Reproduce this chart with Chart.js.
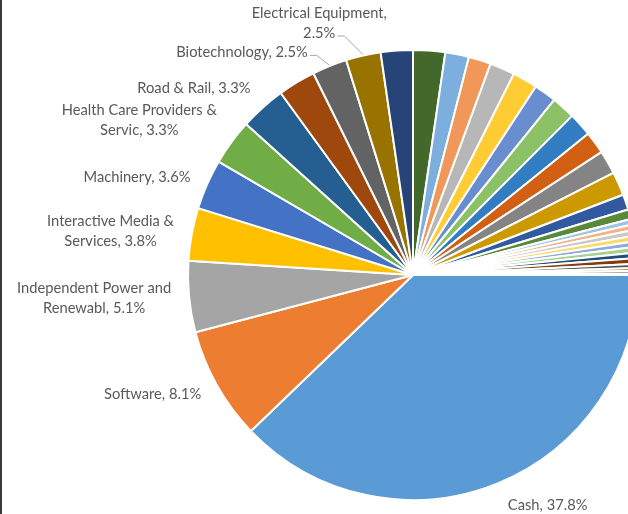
<!DOCTYPE html>
<html>
<head>
<meta charset="utf-8">
<title>Portfolio by industry</title>
<script src="https://cdn.jsdelivr.net/npm/chart.js@4/dist/chart.umd.min.js"></script>
<style>
    html, body { margin: 0; padding: 0; background: #fff; }
    #wrap { position: relative; width: 628px; height: 514px; overflow: hidden; }
    #chart { position: absolute; left: 0; top: 0; }
    #frame { position: absolute; left: 0; top: 0; width: 2px; height: 514px; background: #3a3a3a; }
</style>
</head>
<body>
<div id="wrap">
    <canvas id="chart" width="700" height="514"></canvas>
    <div id="frame"></div>
</div>
<script>
// Industries, in the order Excel draws them (clockwise from 3 o'clock)
const categories = [
    'Cash', 'Software', 'Independent Power and Renewabl', 'Interactive Media & Services',
    'Machinery', 'Health Care Providers & Servic', 'Road & Rail', 'Semiconductors & Semiconductor',
    'Biotechnology', 'Electrical Equipment', 'Banks', 'Capital Markets',
    'Chemicals', 'Insurance', 'Pharmaceuticals', 'IT Services',
    'Specialty Retail', 'Hotels Restaurants & Leisure', 'Aerospace & Defense', 'Media',
    'Building Products', 'Entertainment', 'Health Care Equipment & Supp', 'Oil Gas & Consumable Fuels',
    'Electric Utilities', 'Professional Services', 'Trading Companies & Distribu', 'Household Durables',
    'Food Products', 'Metals & Mining', 'Containers & Packaging', 'Life Sciences Tools & Servic',
    'Diversified Telecommunication', 'Auto Components', 'Beverages', 'Construction & Engineering'
];

// Weight of each industry, percent of the portfolio
const weights = [
    37.8, 8.1, 5.1, 3.8, 3.6, 3.3, 3.3, 2.7,
    2.5, 2.5, 2.3, 2.3, 1.7, 1.6, 1.8, 1.8,
    1.6, 1.7, 1.7, 1.6, 1.7, 1.7, 1.1, 0.7,
    0.4, 0.4, 0.4, 0.4, 0.4, 0.4,
    0.4, 0.4, 0.3, 0.2, 0.2, 0.1
];

// Only these slices carry a data label in the original
const labelled = [
    'Cash', 'Software', 'Independent Power and Renewabl', 'Interactive Media & Services',
    'Machinery', 'Health Care Providers & Servic', 'Road & Rail', 'Biotechnology', 'Electrical Equipment'
];

// Office palette, cycled the way Excel does past six series
const palette = [
    '#5b9bd5', '#ed7d31', '#a5a5a5', '#ffc000', '#4472c4', '#70ad47',
    '#255e91', '#9e480e', '#636363', '#997300', '#264478', '#43682b',
    '#7cafdd', '#f1975a', '#b7b7b7', '#ffcd33', '#698ed0', '#8cc168',
    '#327dc2', '#d26012', '#848484', '#cc9a00', '#335aa1', '#5a8a39',
    '#9dc3e6', '#f4b183', '#c9c9c9', '#ffd966', '#8faadc', '#a9d18e',
    '#1f4e79', '#843c0c', '#525252', '#7f6000', '#203864', '#385723'
];

// Hand nudges where Excel moved a label off its default spot
const labelTweaks = {
    'Cash': { dx: 4, dy: 5 },
    'Health Care Providers & Servic': { dy: -11 },
    'Road & Rail': { dy: -6 },
    'Biotechnology': { dx: -15, dy: 3, leader: true },
    'Electrical Equipment': { dx: -40, dy: -15, leader: true }
};

const FONT = '14.7px Lato, "Open Sans", sans-serif';
const LINE_H = 20;
const WRAP_W = 163;

function wrapText(ctx, text, maxW) {
    const words = text.split(' ');
    const lines = [];
    let line = '';
    words.forEach(w => {
        const test = line ? line + ' ' + w : w;
        if (line && ctx.measureText(test).width > maxW) {
            lines.push(line);
            line = w;
        } else {
            line = test;
        }
    });
    if (line) lines.push(line);
    return lines;
}

const sliceLabels = {
    id: 'sliceLabels',
    afterDatasetsDraw(chart) {
        const ctx = chart.ctx;
        const meta = chart.getDatasetMeta(0);
        const data = chart.data.datasets[0].data;
        const total = data.reduce((a, b) => a + b, 0);

        ctx.save();
        ctx.font = FONT;
        ctx.fillStyle = '#595959';
        ctx.textBaseline = 'middle';
        ctx.textAlign = 'center';

        meta.data.forEach((arc, i) => {
            const name = chart.data.labels[i];
            if (!labelled.includes(name)) return;

            const mid = (arc.startAngle + arc.endAngle) / 2;
            const cos = Math.cos(mid);
            const sin = Math.sin(mid);
            const tw = labelTweaks[name] || {};
            const r = arc.outerRadius + 18;
            const ax = arc.x + cos * r + (tw.dx || 0);
            const ay = arc.y + sin * r + (tw.dy || 0);

            const pct = (data[i] / total * 100).toFixed(1) + '%';
            const lines = wrapText(ctx, name + ', ' + pct, WRAP_W);
            const blockW = Math.max(...lines.map(l => ctx.measureText(l).width));

            // the label box hangs off the anchor on the side away from the pie
            let cx = ax;
            if (cos < -0.3) cx = ax - blockW / 2;
            else if (cos > 0.3) cx = ax + blockW / 2;

            const top = ay - (lines.length - 1) * LINE_H / 2;
            lines.forEach((ln, k) => ctx.fillText(ln, cx, top + k * LINE_H));

            if (tw.leader) {
                const last = lines[lines.length - 1];
                const endX = cx + ctx.measureText(last).width / 2;
                const ly = top + (lines.length - 1) * LINE_H + 3;
                const px = arc.x + cos * (arc.outerRadius + 1);
                const py = arc.y + sin * (arc.outerRadius + 1);
                ctx.beginPath();
                ctx.strokeStyle = '#a6a6a6';
                ctx.lineWidth = 1;
                ctx.moveTo(endX + 2, ly);
                ctx.lineTo(endX + 9, ly);
                ctx.lineTo(px, py);
                ctx.stroke();
            }
        });
        ctx.restore();
    }
};

const chart = new Chart(document.getElementById('chart'), {
    type: 'pie',
    data: {
        labels: categories,
        datasets: [{
            data: weights,
            backgroundColor: palette,
            borderColor: '#ffffff',
            borderWidth: 2
        }]
    },
    options: {
        responsive: false,
        animation: false,
        rotation: 90,
        layout: {
            padding: { left: 187, top: 49, right: 61, bottom: 13 }
        },
        plugins: {
            legend: { display: false },
            tooltip: { enabled: false }
        }
    },
    plugins: [sliceLabels]
});
</script>
</body>
</html>
